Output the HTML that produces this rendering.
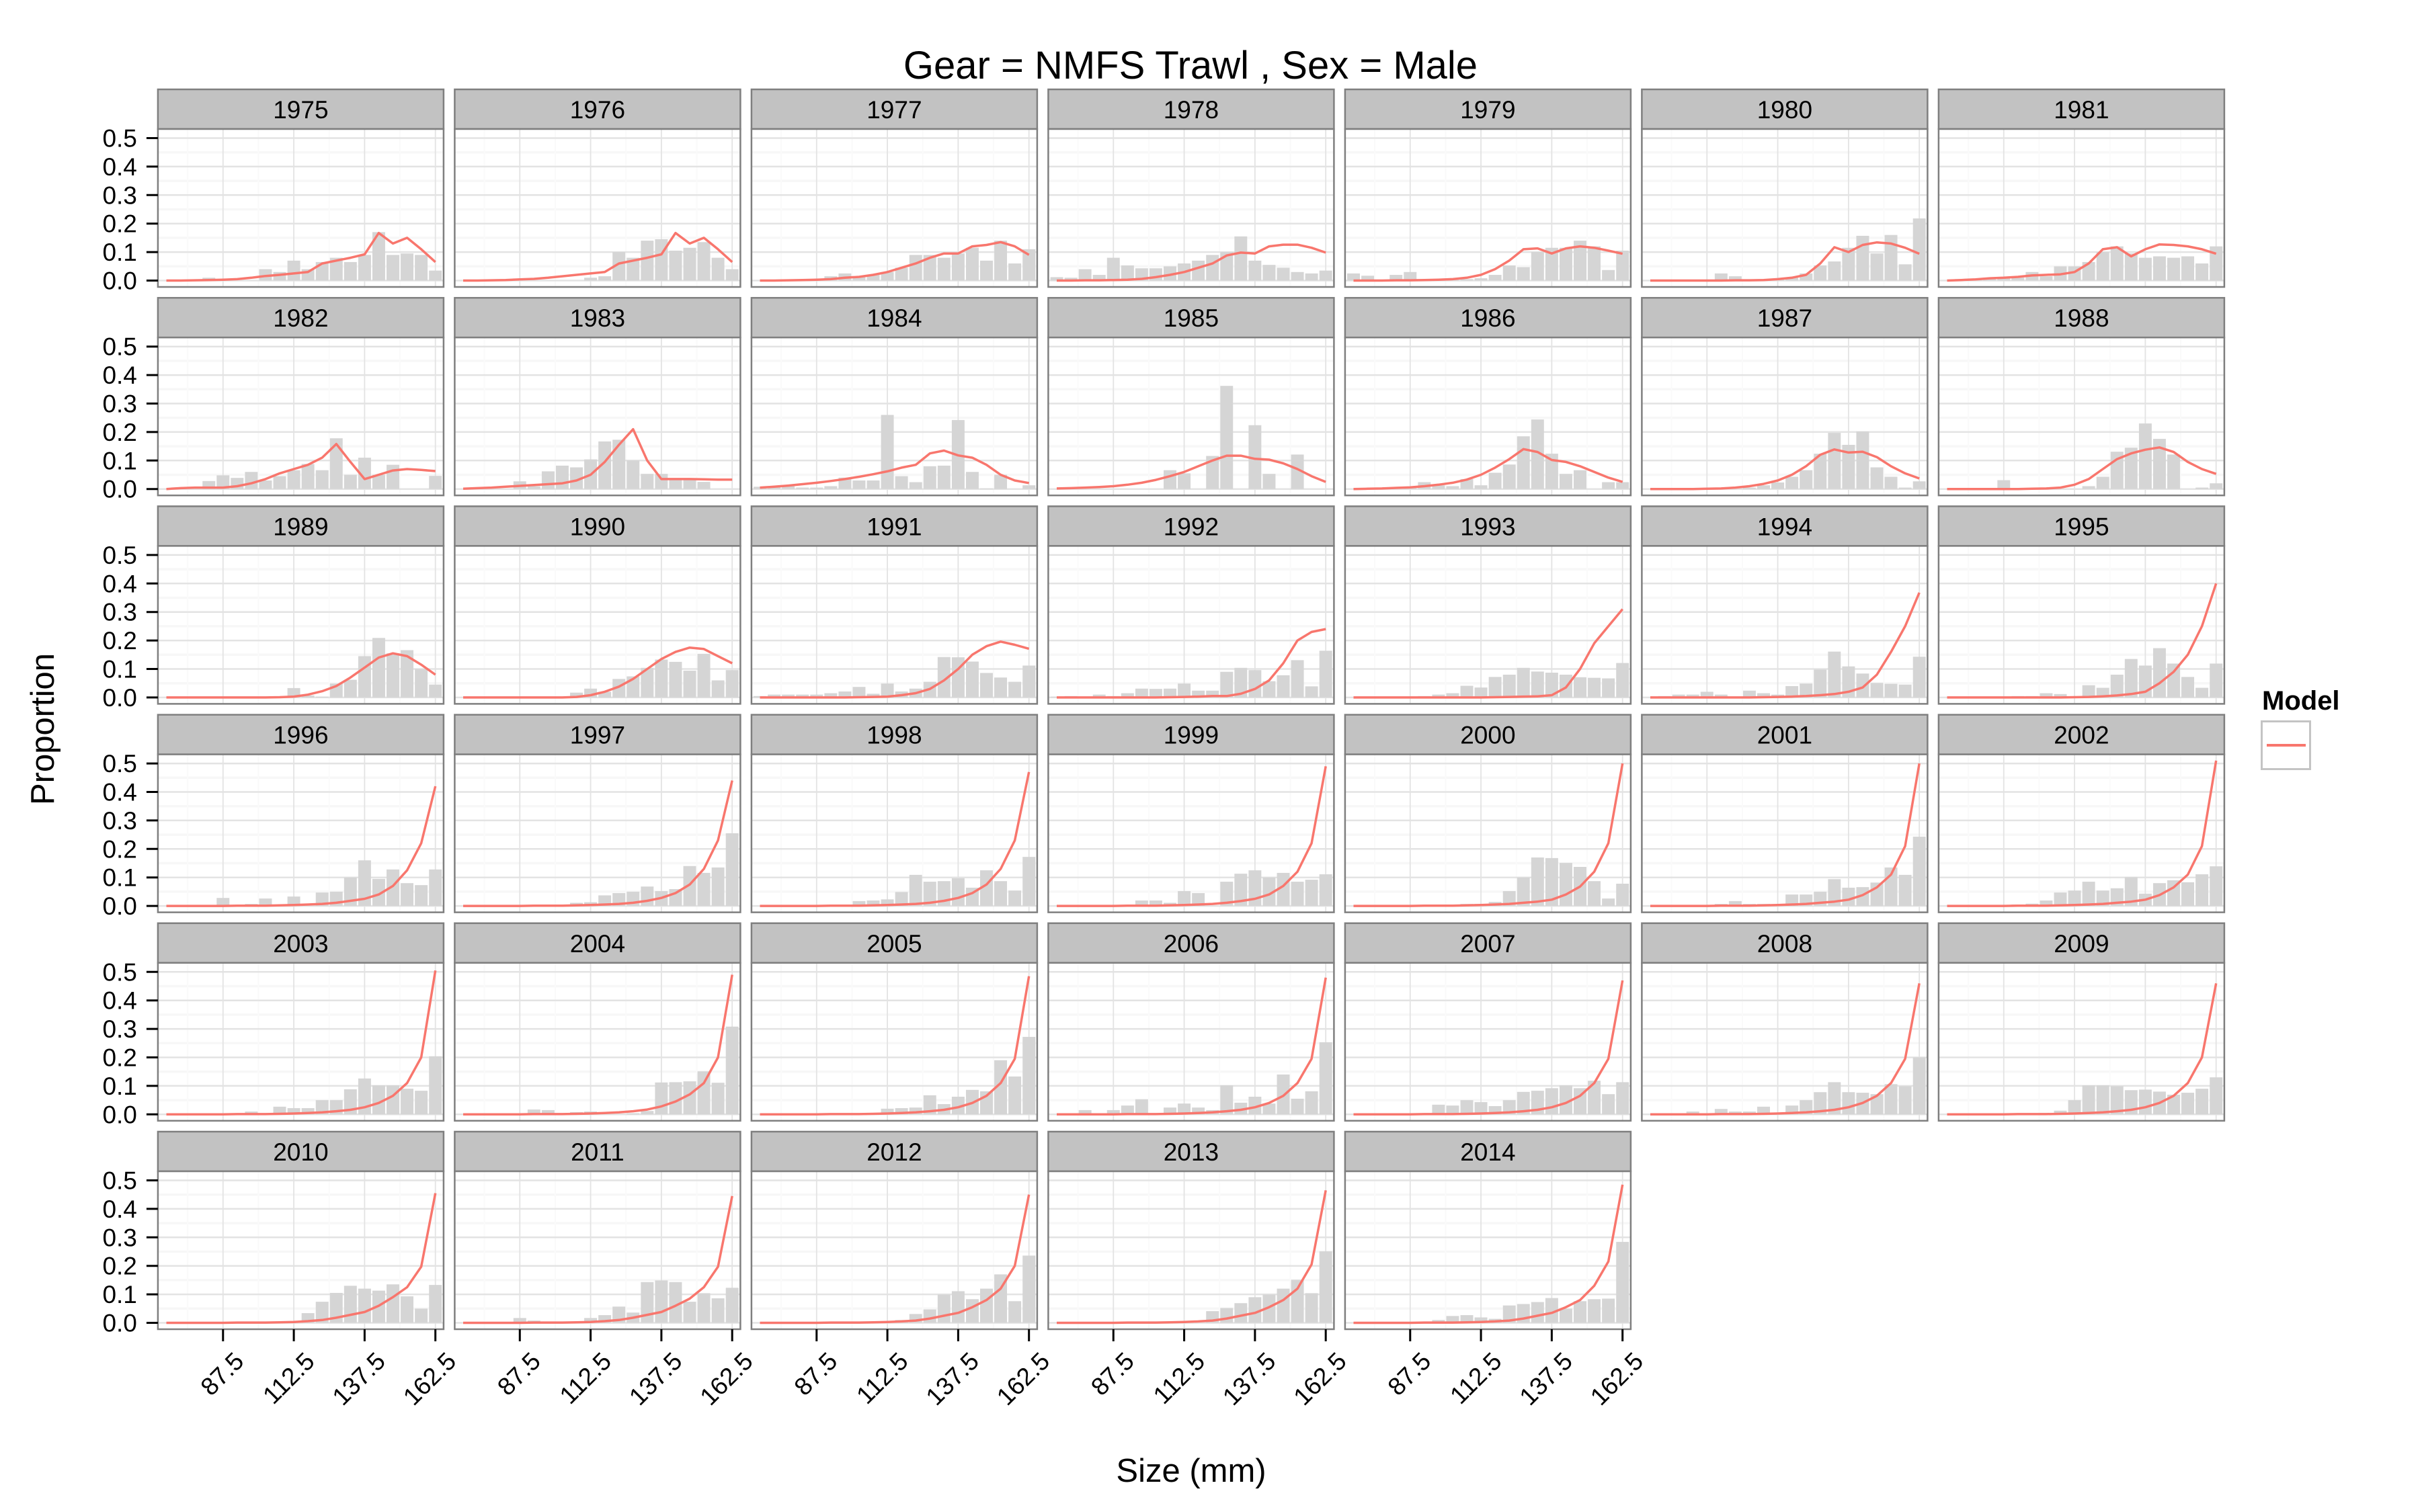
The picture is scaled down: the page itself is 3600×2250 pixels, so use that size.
<!DOCTYPE html>
<html>
<head>
<meta charset="utf-8">
<style>
  html, body { margin: 0; padding: 0; background: #ffffff; }
  svg { display: block; font-family: "Liberation Sans", Arial, sans-serif; }
</style>
</head>
<body>
<svg id="chart" width="3600" height="2250" viewBox="0 0 3600 2250" xmlns="http://www.w3.org/2000/svg">
  <rect x="0" y="0" width="3600" height="2250" fill="#ffffff"/>
  <text x="1771" y="117" font-size="58" text-anchor="middle" fill="#000">Gear = NMFS Trawl , Sex = Male</text>
  <text x="1772" y="2205" font-size="49" text-anchor="middle" fill="#000">Size (mm)</text>
  <text transform="translate(80,1085) rotate(-90)" font-size="49" text-anchor="middle" fill="#000">Proportion</text>
  <g>
    <text x="3365" y="1056" font-size="40" font-weight="bold" fill="#000">Model</text>
    <rect x="3364.5" y="1073.5" width="72" height="71" fill="#ffffff" stroke="#c4c4c4" stroke-width="3"/>
    <line x1="3372" y1="1109" x2="3430" y2="1109" stroke="#F8766D" stroke-width="4"/>
  </g>
  <g id="panels"></g>
</svg>
<script>
const sizeBins = [67.5,72.5,77.5,82.5,87.5,92.5,97.5,102.5,107.5,112.5,117.5,122.5,127.5,132.5,137.5,142.5,147.5,152.5,157.5,162.5];
const xTickValues = [87.5,112.5,137.5,162.5];
const xTickLabels = ["87.5","112.5","137.5","162.5"];
const xMinorValues = [75,100,125,150];
const yTickValues = [0,0.1,0.2,0.3,0.4,0.5];
const yTickLabels = ["0.0","0.1","0.2","0.3","0.4","0.5"];
const yMinorValues = [0.05,0.15,0.25,0.35,0.45];
const years = [1975,1976,1977,1978,1979,1980,1981,1982,1983,1984,1985,1986,1987,1988,1989,1990,1991,1992,1993,1994,1995,1996,1997,1998,1999,2000,2001,2002,2003,2004,2005,2006,2007,2008,2009,2010,2011,2012,2013,2014];

const obs1975 = [0,0,0,.01,0,0,0,.04,.03,.07,.04,.065,.08,.065,.09,.17,.09,.095,.09,.035];
const mod1975 = [0,0,.001,.002,.003,.005,.01,.016,.02,.025,.03,.06,.07,.08,.092,.167,.13,.15,.11,.065];
const obs1976 = [0,0,0,0,0,0,0,0,0,.01,.015,.10,.08,.14,.145,.105,.115,.135,.08,.04];
const mod1976 = [0,0,.001,.002,.004,.006,.01,.015,.02,.025,.03,.06,.07,.08,.092,.167,.13,.15,.11,.065];
const obs1977 = [0,0,0,0,0,.015,.025,.015,.02,.03,.045,.09,.09,.08,.095,.115,.07,.14,.06,.11];
const mod1977 = [0,0,.001,.002,.003,.005,.01,.013,.02,.03,.045,.06,.08,.095,.095,.12,.125,.135,.12,.09];
const obs1978 = [.012,.01,.04,.02,.08,.053,.043,.043,.05,.06,.07,.09,.1,.155,.07,.055,.045,.03,.025,.035];
const mod1978 = [0,0,.001,.001,.002,.003,.006,.012,.02,.03,.045,.06,.088,.098,.095,.12,.126,.126,.115,.098];
const obs1979 = [.025,.017,0,.02,.03,0,.002,.003,.005,.008,.02,.053,.047,.10,.115,.115,.14,.12,.037,.105];
const mod1979 = [0,0,0,.001,.001,.002,.003,.005,.01,.02,.04,.07,.11,.113,.095,.113,.12,.115,.105,.094];
const obs1980 = [0,0,0,0,0,.025,.015,0,0,.005,.01,.025,.053,.067,.115,.157,.095,.16,.057,.218];
const mod1980 = [0,0,0,0,0,0,.001,.001,.002,.005,.01,.02,.06,.117,.1,.125,.134,.13,.115,.094];
const obs1981 = [0,.005,.005,.01,.01,.01,.03,.015,.05,.05,.065,.10,.12,.095,.08,.085,.08,.085,.06,.12];
const mod1981 = [0,.002,.004,.008,.01,.013,.018,.02,.022,.03,.06,.11,.117,.085,.11,.127,.125,.12,.11,.094];
const obs1982 = [0,0,0,.028,.048,.039,.06,.03,.045,.066,.088,.066,.178,.05,.11,.05,.085,0,0,.046];
const mod1982 = [0,.003,.005,.005,.005,.01,.02,.035,.055,.07,.085,.11,.158,.095,.035,.05,.065,.07,.067,.063];
const obs1983 = [0,0,0,0,.027,.01,.062,.082,.076,.104,.167,.173,.1,.053,.053,.035,.033,.025,0,0];
const mod1983 = [.001,.003,.005,.008,.011,.014,.017,.02,.03,.05,.095,.155,.21,.1,.035,.035,.035,.034,.033,.033];
const obs1984 = [.008,.01,.01,.005,.005,.01,.04,.03,.03,.26,.045,.024,.08,.082,.242,.06,.002,.05,0,.013];
const mod1984 = [.005,.008,.012,.017,.022,.028,.035,.043,.052,.062,.075,.085,.125,.135,.118,.11,.085,.05,.03,.021];
const obs1985 = [0,0,0,0,0,0,0,0,.066,.055,0,.116,.362,0,.224,.053,0,.121,0,0];
const mod1985 = [.002,.003,.005,.007,.01,.015,.022,.032,.045,.06,.08,.1,.117,.117,.106,.103,.09,.07,.045,.025];
const obs1986 = [0,0,0,0,.007,.024,.013,.01,.035,.013,.057,.086,.185,.244,.124,.053,.066,0,.024,.024];
const mod1986 = [0,.001,.002,.004,.006,.01,.015,.022,.033,.05,.075,.105,.14,.13,.102,.095,.08,.06,.04,.025];
const obs1987 = [0,0,0,0,0,0,0,.005,.013,.023,.043,.066,.124,.197,.155,.202,.076,.043,.005,.027];
const mod1987 = [0,0,0,0,.001,.002,.005,.01,.018,.03,.05,.08,.12,.139,.128,.131,.112,.08,.055,.037];
const obs1988 = [0,0,0,0,.031,0,0,0,0,0,.01,.043,.131,.145,.23,.176,.121,0,.005,.02];
const mod1988 = [0,0,0,0,0,0,.001,.002,.005,.015,.035,.07,.105,.125,.138,.146,.13,.095,.07,.053];
const obs1989 = [0,0,0,0,0,0,0,0,0,.033,.007,.003,.049,.062,.145,.209,.155,.166,.1,.045];
const mod1989 = [0,0,0,0,0,0,0,0,.001,.003,.01,.022,.04,.07,.105,.14,.155,.145,.115,.08];
const obs1990 = [0,0,0,0,0,0,0,0,.017,.031,.02,.065,.074,.104,.133,.125,.094,.153,.06,.096];
const mod1990 = [0,0,0,0,0,0,0,0,.002,.008,.02,.038,.065,.1,.135,.16,.175,.17,.145,.12];
const obs1991 = [.005,.01,.01,.01,.01,.015,.021,.037,.013,.049,.021,.031,.055,.142,.141,.126,.086,.07,.055,.112];
const mod1991 = [0,0,0,0,0,0,0,.001,.002,.003,.008,.015,.03,.06,.1,.15,.18,.196,.185,.171];
const obs1992 = [.003,.005,0,.01,.005,.015,.031,.03,.031,.049,.024,.024,.09,.104,.096,.057,.078,.131,.039,.164];
const mod1992 = [0,0,0,0,0,0,0,0,.001,.002,.003,.005,.005,.013,.03,.06,.12,.2,.23,.24];
const obs1993 = [0,0,0,0,0,.005,.01,.015,.041,.035,.072,.08,.104,.091,.087,.08,.071,.069,.067,.121];
const mod1993 = [0,0,0,0,0,0,0,0,0,0,.001,.002,.003,.004,.008,.035,.1,.19,.25,.31];
const obs1994 = [0,.005,.01,.01,.02,.01,0,.024,.015,.01,.04,.049,.098,.161,.109,.084,.051,.048,.045,.143];
const mod1994 = [0,0,0,0,0,0,0,0,.001,.002,.003,.005,.008,.012,.02,.035,.08,.16,.25,.368];
const obs1995 = [0,0,0,0,0,.005,.005,.015,.012,0,.043,.034,.08,.135,.112,.173,.119,.072,.034,.119];
const mod1995 = [0,0,0,0,0,0,0,0,0,.001,.002,.004,.007,.012,.02,.05,.09,.15,.25,.40];
const obs1996 = [0,0,0,0,.028,0,.007,.026,.005,.033,0,.047,.05,.1,.16,.095,.128,.08,.073,.128];
const mod1996 = [0,0,0,0,0,.001,.001,.001,.002,.003,.005,.007,.011,.018,.025,.04,.07,.125,.22,.42];
const obs1997 = [0,0,0,0,0,0,0,.003,.011,.013,.037,.045,.05,.068,.052,.059,.14,.116,.135,.255];
const mod1997 = [0,0,0,0,0,.001,.001,.001,.002,.003,.005,.007,.011,.018,.028,.045,.075,.13,.23,.44];
const obs1998 = [0,0,0,0,0,0,0,.017,.019,.023,.049,.109,.085,.087,.097,.064,.125,.087,.054,.172];
const mod1998 = [0,0,0,0,0,.001,.001,.001,.002,.003,.005,.007,.011,.018,.028,.045,.075,.13,.23,.47];
const obs1999 = [0,0,0,0,0,0,.019,.019,.011,.052,.045,0,.085,.113,.125,.1,.116,.085,.092,.111];
const mod1999 = [0,0,0,0,0,.001,.001,.001,.002,.003,.005,.007,.011,.017,.025,.04,.07,.12,.22,.49];
const obs2000 = [0,0,0,0,0,0,0,0,.007,.007,.014,.052,.1,.17,.168,.151,.137,.087,.026,.078];
const mod2000 = [0,0,0,0,0,.001,.001,.001,.002,.003,.005,.007,.011,.015,.022,.04,.068,.12,.22,.50];
const obs2001 = [0,0,0,0,0,.007,.017,.007,.007,0,.04,.04,.05,.094,.064,.066,.082,.135,.109,.243];
const mod2001 = [0,0,0,0,0,.001,.001,.001,.002,.003,.005,.007,.011,.015,.022,.038,.065,.11,.21,.50];
const obs2002 = [0,0,0,0,0,.005,.008,.019,.047,.054,.085,.054,.062,.101,.043,.08,.09,.083,.111,.139];
const mod2002 = [0,0,0,0,0,.001,.001,.001,.002,.003,.005,.007,.011,.015,.022,.038,.065,.11,.21,.51];
const obs2003 = [0,0,0,.004,0,.004,.01,0,.027,.022,.022,.05,.05,.088,.126,.102,.102,.09,.083,.204];
const mod2003 = [0,0,0,0,0,.001,.001,.001,.002,.003,.005,.007,.011,.016,.025,.04,.065,.11,.2,.505];
const obs2004 = [0,0,0,0,0,.017,.015,0,.008,.01,0,0,.004,.012,.112,.113,.116,.151,.111,.308];
const mod2004 = [0,0,0,0,0,.001,.001,.001,.002,.003,.005,.007,.011,.017,.028,.045,.07,.11,.2,.49];
const obs2005 = [0,0,0,0,0,0,0,0,0,.02,.022,.024,.067,.036,.062,.086,.081,.19,.133,.272];
const mod2005 = [0,0,0,0,0,.001,.001,.001,.002,.003,.005,.007,.011,.016,.025,.04,.065,.11,.195,.485];
const obs2006 = [0,0,.015,0,.015,.031,.053,0,.024,.038,.024,.015,.102,.041,.062,.038,.14,.055,.081,.253];
const mod2006 = [0,0,0,0,0,.001,.001,.001,.002,.003,.005,.007,.011,.016,.025,.04,.065,.11,.195,.48];
const obs2007 = [0,0,0,0,0,0,.034,.031,.05,.043,.029,.05,.079,.083,.092,.102,.092,.118,.071,.113];
const mod2007 = [0,0,0,0,0,.001,.001,.001,.002,.003,.005,.007,.011,.016,.025,.04,.065,.11,.195,.47];
const obs2008 = [0,0,0,.01,0,.019,.01,.01,.027,0,.031,.05,.078,.113,.078,.076,.071,.106,.099,.2];
const mod2008 = [0,0,0,0,0,.001,.001,.001,.002,.003,.005,.007,.011,.016,.025,.04,.065,.11,.195,.46];
const obs2009 = [0,0,0,0,0,0,0,.005,.013,.05,.102,.102,.099,.085,.087,.08,.069,.076,.09,.13];
const mod2009 = [0,0,0,0,0,.001,.001,.001,.002,.003,.005,.007,.011,.016,.025,.04,.065,.11,.2,.46];
const obs2010 = [0,0,0,0,0,0,0,0,0,0,.034,.074,.105,.13,.12,.113,.135,.093,.05,.133];
const mod2010 = [0,0,0,0,0,.001,.001,.001,.002,.003,.006,.01,.018,.028,.038,.06,.09,.125,.197,.455];
const obs2011 = [0,0,0,0,.017,.008,0,0,0,.017,.027,.057,.036,.143,.149,.143,.074,.104,.086,.123];
const mod2011 = [0,0,0,0,0,.001,.001,.001,.002,.003,.006,.01,.018,.028,.038,.06,.085,.125,.197,.445];
const obs2012 = [0,0,0,0,0,0,0,0,0,0,.01,.031,.047,.099,.111,.083,.12,.17,.076,.236];
const mod2012 = [0,0,0,0,0,.001,.001,.001,.002,.003,.005,.008,.015,.025,.035,.055,.08,.12,.2,.45];
const obs2013 = [0,0,0,0,0,0,0,0,0,0,0,.041,.052,.069,.09,.099,.12,.151,.104,.251];
const mod2013 = [0,0,0,0,0,.001,.001,.001,.002,.003,.005,.008,.015,.025,.035,.055,.08,.12,.205,.465];
const obs2014 = [0,0,0,0,0,0,.01,.024,.027,.019,.014,.061,.066,.073,.087,.05,.076,.083,.085,.284];
const mod2014 = [0,0,0,0,0,.001,.001,.001,.002,.003,.005,.008,.015,.025,.035,.055,.08,.13,.215,.485];

const observedByYear = [obs1975,obs1976,obs1977,obs1978,obs1979,obs1980,obs1981,obs1982,obs1983,obs1984,obs1985,obs1986,obs1987,obs1988,obs1989,obs1990,obs1991,obs1992,obs1993,obs1994,obs1995,obs1996,obs1997,obs1998,obs1999,obs2000,obs2001,obs2002,obs2003,obs2004,obs2005,obs2006,obs2007,obs2008,obs2009,obs2010,obs2011,obs2012,obs2013,obs2014];
const modelByYear = [mod1975,mod1976,mod1977,mod1978,mod1979,mod1980,mod1981,mod1982,mod1983,mod1984,mod1985,mod1986,mod1987,mod1988,mod1989,mod1990,mod1991,mod1992,mod1993,mod1994,mod1995,mod1996,mod1997,mod1998,mod1999,mod2000,mod2001,mod2002,mod2003,mod2004,mod2005,mod2006,mod2007,mod2008,mod2009,mod2010,mod2011,mod2012,mod2013,mod2014];

const NS = "http://www.w3.org/2000/svg";
const NCOL = 7;
const PANEL_W = 425, COL_PITCH = 441.5, LEFT0 = 234.9;
const STRIP_TOP0 = 133, ROW_PITCH = 310.2, STRIP_H = 59, PANEL_H = 235;
const X_MIN = 64.5, X_MAX = 165.4;
const Y_PER_UNIT = 424; // pixels per 1.0 proportion
const BAR_W_UNITS = 4.5;

function mk(tag, attrs, parent) {
  const el = document.createElementNS(NS, tag);
  for (const k in attrs) el.setAttribute(k, attrs[k]);
  parent.appendChild(el);
  return el;
}

const root = document.getElementById("panels");
const nYears = years.length;
const lastRowStart = Math.floor((nYears - 1) / NCOL) * NCOL;

years.forEach(function (year, idx) {
  const col = idx % NCOL, row = Math.floor(idx / NCOL);
  const left = LEFT0 + col * COL_PITCH;
  const stripTop = STRIP_TOP0 + row * ROW_PITCH;
  const top = stripTop + STRIP_H;
  const bottom = top + PANEL_H;
  const zeroY = bottom - 9.5;
  const xs = function (v) { return left + (v - X_MIN) / (X_MAX - X_MIN) * PANEL_W; };
  const ys = function (v) { return zeroY - v * Y_PER_UNIT; };

  const g = mk("g", {}, root);
  
  

  // strip
  const strip = mk("rect", {x: left, y: stripTop, width: PANEL_W, height: STRIP_H, fill: "#c2c2c2", stroke: "#7f7f7f", "stroke-width": 2.5}, g);
  
  
  const st = mk("text", {x: left + PANEL_W / 2, y: stripTop + 43, "font-size": 37, "text-anchor": "middle", fill: "#000"}, g);
  st.textContent = String(year);
  
  

  // background
  const bg = mk("rect", {x: left, y: top, width: PANEL_W, height: PANEL_H, fill: "#ffffff"}, g);
  
  

  // grid
  yMinorValues.forEach(function (v) {
    const l = mk("line", {x1: left, x2: left + PANEL_W, y1: ys(v), y2: ys(v), stroke: "#f7f7f7", "stroke-width": 3.5}, g);
    
    
  });
  xMinorValues.forEach(function (v) {
    const l = mk("line", {x1: xs(v), x2: xs(v), y1: top, y2: bottom, stroke: "#fafafa", "stroke-width": 2}, g);
    
    
  });
  yTickValues.forEach(function (v) {
    const l = mk("line", {x1: left, x2: left + PANEL_W, y1: ys(v), y2: ys(v), stroke: "#e3e3e3", "stroke-width": 2.5}, g);
    
    
  });
  xTickValues.forEach(function (v) {
    const l = mk("line", {x1: xs(v), x2: xs(v), y1: top, y2: bottom, stroke: "#e3e3e3", "stroke-width": 1.8}, g);
    
    
  });

  // bars
  const obs = observedByYear[idx];
  sizeBins.forEach(function (b, i) {
    const v = obs[i];
    if (!(v > 0)) return;
    const x0 = xs(b - BAR_W_UNITS / 2), x1 = xs(b + BAR_W_UNITS / 2);
    const r = mk("rect", {x: x0, y: ys(v), width: x1 - x0, height: zeroY - ys(v), fill: "#d5d5d5"}, g);
    
    
  });

  // model line
  const mod = modelByYear[idx];
  const pts = sizeBins.map(function (b, i) { return xs(b).toFixed(1) + "," + ys(mod[i]).toFixed(1); }).join(" ");
  const pl = mk("polyline", {points: pts, fill: "none", stroke: "#F8766D", "stroke-width": 3.5, "stroke-linejoin": "round"}, g);
  
  

  // border
  const bd = mk("rect", {x: left, y: top, width: PANEL_W, height: PANEL_H, fill: "none", stroke: "#7f7f7f", "stroke-width": 2.5}, g);
  
  

  // y axis on first column
  if (col === 0) {
    yTickValues.forEach(function (v, k) {
      const t = mk("line", {x1: left - 17, x2: left, y1: ys(v), y2: ys(v), stroke: "#000", "stroke-width": 3}, g);
      
      
      const tl = mk("text", {x: left - 31, y: ys(v) + 13, "font-size": 37, "text-anchor": "end", fill: "#000"}, g);
      tl.textContent = yTickLabels[k];
      
      
    });
  }

  // x axis on bottom panels of each column
  if (idx >= lastRowStart || idx + NCOL >= nYears && false) {
    xTickValues.forEach(function (v, k) {
      const tx = xs(v);
      const t = mk("line", {x1: tx, x2: tx, y1: bottom, y2: bottom + 18, stroke: "#000", "stroke-width": 3}, g);
      
      
      const ax = tx + 33, ay = bottom + 50;
      const tl = mk("text", {x: ax, y: ay, "font-size": 37, "text-anchor": "end", fill: "#000", transform: "rotate(-45 " + ax + " " + ay + ")"}, g);
      tl.textContent = xTickLabels[k];
      
      
    });
  }
});
</script>
</body>
</html>
